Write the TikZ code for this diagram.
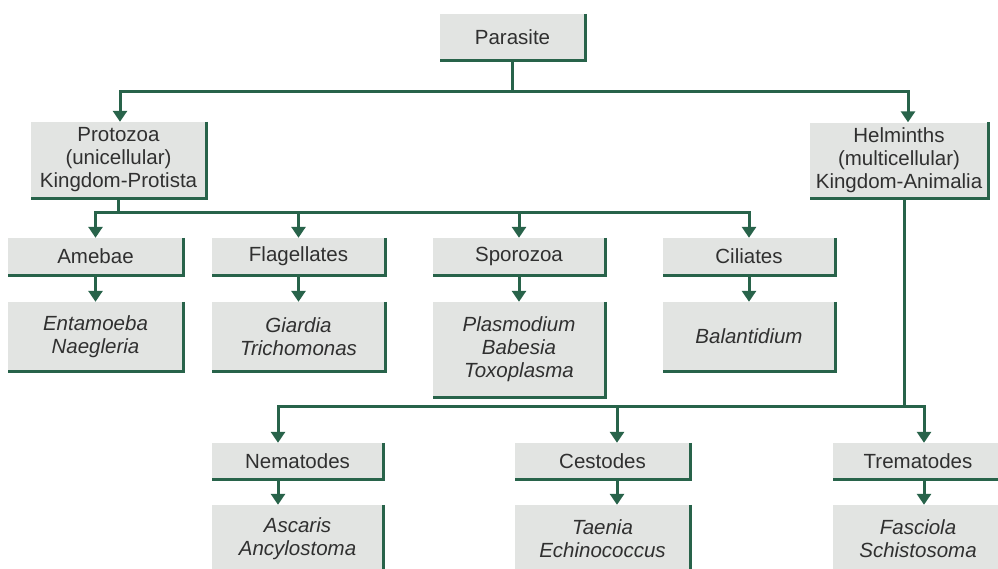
\documentclass[tikz,border=0pt]{standalone}
\usepackage{fontspec}
\setmainfont{Liberation Sans}
\usetikzlibrary{arrows.meta}
\definecolor{lgreen}{HTML}{28634A}
\definecolor{boxgray}{HTML}{E2E4E2}
\definecolor{txt}{HTML}{303030}
\begin{document}
\begin{tikzpicture}[x=1pt,y=-1pt,
  box/.style={fill=boxgray, inner sep=0pt, align=center, text=txt, font=\fontsize{20.5}{23}\selectfont},
  leaf/.style={box, font=\fontsize{20.5}{23}\selectfont\itshape},
  edgeline/.style={draw=lgreen, line width=3pt},
  conn/.style={draw=lgreen, line width=3pt},
  arr/.style={conn, -{Triangle[width=14pt,length=11pt]}}]
\useasboundingbox (0,0) rectangle (998,568);
\fill[white] (0,0) rectangle (998,568);

% level 0
\node[box, minimum width=145pt, minimum height=46pt] (parasite) at (512.5,37) {Parasite};
% level 1
\node[box, minimum width=175pt, minimum height=76pt] (protozoa) at (118.5,160) {Protozoa\\(unicellular)\\Kingdom-Protista};
\node[box, minimum width=178pt, minimum height=76pt] (helminths) at (899,160.5) {Helminths\\(multicellular)\\Kingdom-Animalia};
% level 2
\node[box, minimum width=175pt, minimum height=37pt] (amebae) at (95.5,256.5) {Amebae};
\node[box, minimum width=173pt, minimum height=37pt] (flagellates) at (298.5,256.5) {Flagellates};
\node[box, minimum width=172pt, minimum height=37pt] (sporozoa) at (519,256.5) {Sporozoa};
\node[box, minimum width=172pt, minimum height=37pt] (ciliates) at (749,256.5) {Ciliates};
% level 3
\node[leaf, minimum width=175pt, minimum height=69pt] (entamoeba) at (95.5,336.5) {Entamoeba\\Naegleria};
\node[leaf, minimum width=173pt, minimum height=69pt] (giardia) at (298.5,336.5) {Giardia\\Trichomonas};
\node[leaf, minimum width=172pt, minimum height=95pt] (plasmodium) at (519,349.5) {Plasmodium\\Babesia\\Toxoplasma};
\node[leaf, minimum width=172pt, minimum height=69pt] (balantidium) at (749,336.5) {Balantidium};
% helminth groups
\node[box, minimum width=171pt, minimum height=36pt] (nematodes) at (297.5,461) {Nematodes};
\node[box, minimum width=175pt, minimum height=36pt] (cestodes) at (602.5,461) {Cestodes};
\node[box, minimum width=170pt, minimum height=36pt] (trematodes) at (918,461) {Trematodes};
\node[leaf, minimum width=171pt, minimum height=68pt] (ascaris) at (297.5,539) {Ascaris\\Ancylostoma};
\node[leaf, minimum width=175pt, minimum height=68pt] (taenia) at (602.5,539) {Taenia\\Echinococcus};
\node[leaf, minimum width=170pt, minimum height=68pt] (fasciola) at (918,539) {Fasciola\\Schistosoma};

% box shadows (right and bottom edges)
\foreach \n in {parasite,protozoa,helminths,amebae,flagellates,sporozoa,ciliates,
  entamoeba,giardia,plasmodium,balantidium,nematodes,cestodes,trematodes,ascaris,taenia,fasciola}
  \draw[edgeline] (\n.north east) -- (\n.south east) -- (\n.south west);

% connectors
\coordinate (j1) at (512.5,91);
\draw[conn] (parasite.south) -- (j1);
\draw[arr] (j1) -| ([xshift=1.5pt]protozoa.north);
\draw[arr] (j1) -| ([xshift=9pt]helminths.north);

\coordinate (j2) at (118.5,212);
\draw[conn] (protozoa.south) -- (j2);
\draw[arr] (j2) -| (amebae.north);
\draw[arr] (j2) -| (flagellates.north);
\draw[arr] (j2) -| (sporozoa.north);
\draw[arr] (j2) -| (ciliates.north);

\draw[arr] (amebae.south) -- (entamoeba.north);
\draw[arr] (flagellates.south) -- (giardia.north);
\draw[arr] (sporozoa.south) -- (plasmodium.north);
\draw[arr] (ciliates.south) -- (balantidium.north);

\coordinate (j3) at (904,406);
\draw[conn] ([xshift=5pt]helminths.south) -- (j3);
\draw[arr] (j3) -| ([xshift=-19.5pt]nematodes.north);
\draw[arr] (j3) -| ([xshift=14.5pt]cestodes.north);
\draw[arr] (j3) -| ([xshift=6pt]trematodes.north);

\draw[arr] ([xshift=-19.5pt]nematodes.south) -- ([xshift=-19.5pt]ascaris.north);
\draw[arr] ([xshift=14.5pt]cestodes.south) -- ([xshift=14.5pt]taenia.north);
\draw[arr] ([xshift=6pt]trematodes.south) -- ([xshift=6pt]fasciola.north);
\end{tikzpicture}
\end{document}
